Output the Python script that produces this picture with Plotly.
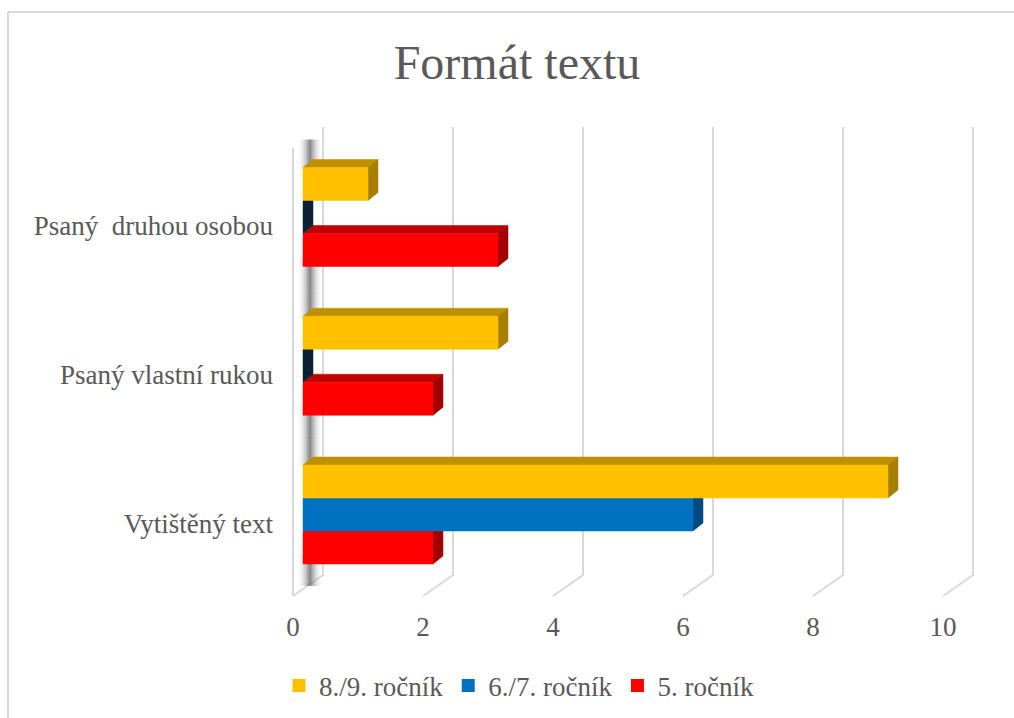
import plotly.graph_objects as go

# ---------------- data ----------------
categories = ["Vytištěný text", "Psaný vlastní rukou", "Psaný \u00a0druhou osobou"]
series_names = ["8./9. ročník", "6./7. ročník", "5. ročník"]
vals_89 = [9, 3, 1]
vals_67 = [6, 0, 0]
vals_5 = [2, 2, 3]
x_ticks = [0, 2, 4, 6, 8, 10]
x_tick_labels = ["0", "2", "4", "6", "8", "10"]
title_text = "Formát textu"

# ---------------- style ----------------
FONT = "Liberation Serif, Times New Roman, serif"
TXT = "#595959"
GRID = "#D9D9D9"
front_cols = {"8./9. ročník": "#FFC000", "6./7. ročník": "#0070C0", "5. ročník": "#FF0000"}
top_cols = {"8./9. ročník": "#BF9000", "6./7. ročník": "#005A9C", "5. ročník": "#C00000"}
side_cols = {"8./9. ročník": "#A67E00", "6./7. ročník": "#004A80", "5. ročník": "#A00000"}
zero_side_col = "#0C2136"

W, H = 1014, 718
ML, MR, MT, MB = 283, 21, 100, 118
PW, PH = W - ML - MR, H - MT - MB

# pixel <-> data mapping (front plane of bars)
X0_PX, PX_PER_X = 303.0, 65.0
Y0_PX, PX_PER_Y = 514.5, 148.75
x_range = [(ML - X0_PX) / PX_PER_X, (ML + PW - X0_PX) / PX_PER_X]
y_range = [(Y0_PX - (MT + PH)) / PX_PER_Y, (Y0_PX - MT) / PX_PER_Y]


def py(p):
    return (Y0_PX - p) / PX_PER_Y


def dxp(p):
    return p / PX_PER_X


def dyp(p):
    return p / PX_PER_Y


bar_h = 33 / PX_PER_Y
bdx, bdy = dxp(10), dyp(8)          # bar depth
back_dx, front_dx = dxp(20), dxp(-10)  # floor / wall depth
grid_top, back_bot, front_bot = py(127), py(575), py(596)
wall_front_top = py(148)

fig = go.Figure()

# ---------------- gridlines / floor ----------------
for v in x_ticks[1:]:
    fig.add_trace(go.Scatter(
        x=[v + back_dx, v + back_dx, v + front_dx],
        y=[grid_top, back_bot, front_bot],
        mode="lines", line=dict(color=GRID, width=2),
        hoverinfo="skip", showlegend=False))

# wall
fig.add_trace(go.Scatter(
    x=[front_dx, front_dx, None, back_dx, back_dx, front_dx],
    y=[wall_front_top, front_bot, None, grid_top, back_bot, front_bot],
    mode="lines", line=dict(color=GRID, width=2),
    hoverinfo="skip", showlegend=False))

# soft wall shadows above / below each group
for i in range(len(categories)):
    g_top = i + 1.5 * bar_h + dyp(8)
    g_bot = i - 1.5 * bar_h
    xa, xb = dxp(-6), dxp(20)
    for y0, y1 in [(g_top - dyp(10), g_top + dyp(20)), (g_bot - dyp(22), g_bot + dyp(10))]:
        fig.add_trace(go.Scatter(
            x=[xa, xb, xb, xa, xa], y=[y0, y0, y1, y1, y0],
            mode="lines", line=dict(width=0), fill="toself",
            fillgradient=dict(type="horizontal", colorscale=[
                [0, "rgba(255,255,255,0)"], [0.5, "rgba(80,80,80,0.7)"],
                [1, "rgba(255,255,255,0)"]]),
            hoverinfo="skip", showlegend=False))

# ---------------- 3D bars ----------------
series = [("5. ročník", vals_5, -bar_h), ("6./7. ročník", vals_67, 0.0),
          ("8./9. ročník", vals_89, bar_h)]


def poly(xs, ys, color):
    fig.add_trace(go.Scatter(
        x=xs + [xs[0]], y=ys + [ys[0]], mode="lines",
        line=dict(width=0.5, color=color), fill="toself", fillcolor=color,
        hoverinfo="skip", showlegend=False))


for name, vals, off in series:
    for i, v in enumerate(vals):
        yb = i + off - bar_h / 2
        yt = yb + bar_h
        if v > 0:
            poly([0, v, v + bdx, bdx], [yt, yt, yt + bdy, yt + bdy], top_cols[name])
        poly([v, v, v + bdx, v + bdx], [yb, yt, yt + bdy, yb + bdy],
             side_cols[name] if v > 0 else zero_side_col)
        if v > 0:
            poly([0, v, v, 0], [yb, yb, yt, yt], front_cols[name])

# legend entries
for name in series_names:
    fig.add_trace(go.Scatter(x=[None], y=[None], name=name, mode="markers",
                             marker=dict(symbol="square", size=13, color=front_cols[name],
                                         line=dict(width=0))))

# chart border (light grey frame)
def paper_x(p):
    return (p - ML) / PW


def paper_y(p):
    return (MT + PH - p) / PH


fig.add_shape(type="line", xref="paper", yref="paper",
              x0=paper_x(8), x1=paper_x(8), y0=paper_y(12), y1=paper_y(730),
              line=dict(color=GRID, width=2))
fig.add_shape(type="line", xref="paper", yref="paper",
              x0=paper_x(8), x1=paper_x(1030), y0=paper_y(12), y1=paper_y(12),
              line=dict(color=GRID, width=2))

fig.update_layout(
    width=W, height=H,
    margin=dict(l=ML, r=MR, t=MT, b=MB, autoexpand=False),
    paper_bgcolor="white", plot_bgcolor="white",
    font=dict(family=FONT, color=TXT, size=27),
    title=dict(text=title_text, x=517 / W, xanchor="center",
               y=1 - 62 / H, yanchor="middle", font=dict(size=48, color=TXT, family=FONT)),
    xaxis=dict(range=x_range, showgrid=False, zeroline=False, showline=False,
               tickvals=[v + front_dx for v in x_ticks], ticktext=x_tick_labels,
               ticks="", tickfont=dict(size=27, color=TXT), ticklabelstandoff=8),
    yaxis=dict(range=y_range, showgrid=False, zeroline=False, showline=False,
               tickvals=[i - 0.058 for i in range(len(categories))], ticktext=categories,
               ticks="", tickfont=dict(size=27, color=TXT), ticklabelstandoff=9),
    legend=dict(orientation="h", x=paper_x(519), xanchor="center",
                y=paper_y(686), yanchor="middle", font=dict(size=27, color=TXT),
                traceorder="normal", bgcolor="rgba(0,0,0,0)"),
    showlegend=True,
)

fig.write_html("out.html")
